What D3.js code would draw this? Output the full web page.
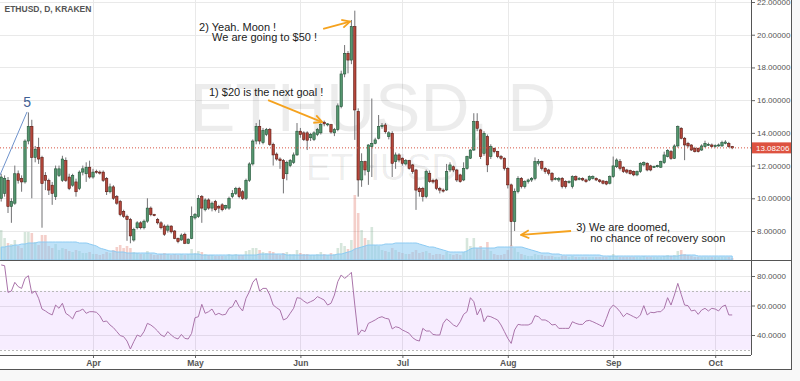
<!DOCTYPE html>
<html>
<head>
<meta charset="utf-8">
<script src="https://cdn.jsdelivr.net/npm/d3@7"></script>
<style>
    html, body { margin: 0; padding: 0; background: #f8f8f8; }
    svg { display: block; font-family: "Liberation Sans", Arial, sans-serif; }
</style>
</head>
<body>
<svg id="chart" width="800" height="381"></svg>
<script>
(function () {

    // daily candles, first one is 2016-03-05
    var startDay = Date.UTC(2016, 2, 5);

    var opens = [
        10.0, 10.3, 11.1, 9.5, 9.7, 11.5, 11.2, 11.0, 13.5, 14.4,
        12.5, 13.1, 12.5, 11.4, 11.1, 10.8, 10.1, 11.4, 11.1, 12.3,
        11.3, 10.8, 11.0, 10.6, 11.6, 11.5, 11.9, 11.3, 11.65, 11.6,
        11.6, 11.2, 10.4, 10.7, 10.1, 9.8, 9.2, 8.9, 8.7, 7.45,
        8.2, 8.5, 8.2, 8.6, 9.4, 9.0, 8.7, 8.5, 8.3, 8.05,
        8.3, 8.0, 7.55, 7.45, 7.8, 7.25, 7.55, 8.8, 8.88, 10.1,
        9.3, 9.9, 9.4, 9.8, 9.5, 9.6, 9.4, 9.4, 10.1, 10.3,
        10.6, 10.4, 10.0, 11.1, 12.1, 13.5, 14.4, 13.4, 13.9, 14.2,
        13.3, 12.7, 12.4, 12.3, 11.5, 12.0, 12.2, 12.65, 14.1, 14.0,
        14.0, 13.7, 13.6, 13.9, 14.0, 14.65, 14.5, 14.5, 14.0, 14.2,
        15.6, 17.6, 18.86, 18.45, 20.49, 15.3, 11.12, 12.24, 11.63, 13.16,
        13.36, 13.67, 14.38, 14.48, 13.77, 13.97, 12.24, 12.65, 12.45, 12.1,
        12.3, 12.04, 11.73, 10.61, 10.61, 10.1, 11.53, 11.1, 11.12, 10.6,
        10.5, 10.51, 11.73, 11.93, 11.73, 11.43, 11.12, 11.83, 12.45, 12.95,
        14.69, 14.18, 12.75, 13.77, 12.55, 13.05, 12.85, 12.55, 12.45, 11.83,
        10.82, 8.57, 10.41, 11.22, 10.71, 11.02, 11.12, 11.22, 12.14, 12.24,
        11.83, 11.73, 11.53, 11.2, 11.12, 11.22, 11.02, 11.0, 10.71, 11.32,
        11.18, 11.2, 11.12, 11.12, 11.22, 11.22, 11.12, 11.06, 11.02, 10.92,
        11.32, 11.93, 12.24, 11.9, 11.73, 11.69, 11.63, 11.43, 11.63, 12.04,
        12.14, 11.98, 11.9, 11.93, 11.9, 12.18, 12.55, 12.85, 12.44, 13.2,
        14.28, 13.67, 13.36, 13.26, 13.05, 13.05, 12.95, 13.16, 13.26, 13.26,
        13.2, 13.24, 13.2, 13.36, 13.36, 13.16
    ];
    var highs = [
        11.5, 11.4, 11.3, 10.0, 12.0, 11.7, 11.4, 13.6, 15.25, 14.8,
        13.2, 13.7, 12.6, 11.6, 11.2, 11.0, 12.0, 12.0, 12.6, 12.5,
        11.5, 11.5, 11.2, 11.7, 12.0, 12.2, 12.3, 11.8, 11.75, 11.7,
        11.7, 11.3, 10.9, 10.8, 10.2, 9.9, 9.3, 9.0, 8.8, 8.2,
        8.6, 8.6, 8.7, 10.0, 9.5, 9.05, 8.8, 8.6, 8.4, 8.4,
        8.35, 8.05, 7.6, 7.85, 7.9, 7.55, 9.5, 9.1, 10.2, 10.2,
        10.0, 10.0, 9.8, 9.9, 9.6, 9.7, 9.6, 10.1, 10.5, 10.7,
        10.7, 10.5, 11.2, 12.2, 13.6, 14.6, 14.8, 14.3, 14.3, 14.3,
        13.4, 12.8, 12.5, 12.4, 12.3, 12.4, 12.8, 14.6, 14.3, 14.1,
        14.1, 14.0, 14.1, 14.3, 14.7, 14.75, 14.6, 14.55, 14.3, 15.8,
        17.8, 19.37, 19.0, 20.9, 21.47, 15.5, 12.75, 12.3, 13.3, 16.1,
        13.7, 15.09, 14.6, 14.6, 14.1, 14.1, 12.8, 12.75, 12.5, 12.4,
        12.35, 12.1, 11.8, 10.7, 10.7, 11.75, 11.7, 11.2, 11.2, 10.7,
        10.6, 12.1, 12.2, 12.0, 11.8, 11.5, 12.2, 12.6, 13.0, 15.2,
        15.2, 14.25, 14.1, 13.9, 13.3, 13.1, 12.9, 12.65, 12.5, 11.9,
        10.9, 10.6, 11.35, 11.3, 11.1, 11.2, 11.3, 12.5, 12.4, 12.3,
        11.9, 11.8, 11.6, 11.3, 11.3, 11.3, 11.1, 11.1, 11.4, 11.4,
        11.3, 11.28, 11.2, 11.4, 11.4, 11.28, 11.18, 11.12, 11.08, 11.4,
        12.55, 12.44, 12.4, 11.95, 11.8, 11.75, 11.7, 11.7, 12.2, 12.25,
        12.2, 12.05, 12.0, 12.05, 12.3, 12.85, 13.0, 12.95, 13.3, 14.45,
        14.35, 13.75, 13.45, 13.3, 13.15, 13.1, 13.3, 13.52, 13.4, 13.35,
        13.3, 13.35, 13.52, 13.55, 13.45, 13.2
    ];
    var lows = [
        9.8, 10.1, 9.1, 8.5, 9.6, 10.9, 10.4, 10.9, 13.3, 10.0,
        12.2, 12.1, 8.2, 10.5, 10.2, 9.6, 9.9, 11.3, 11.0, 11.0,
        10.5, 10.7, 10.1, 10.5, 11.4, 11.0, 11.2, 11.2, 11.5, 11.45,
        11.0, 10.2, 10.3, 9.9, 9.6, 8.9, 8.8, 7.4, 7.25, 7.35,
        8.1, 8.1, 8.1, 8.5, 8.9, 8.9, 8.4, 8.1, 7.7, 7.9,
        7.85, 7.5, 7.25, 7.4, 7.2, 7.2, 7.5, 8.7, 8.8, 8.5,
        9.2, 9.3, 9.2, 9.2, 9.1, 9.2, 9.3, 9.3, 10.0, 10.2,
        10.0, 9.9, 9.9, 11.0, 12.0, 13.3, 13.3, 13.3, 13.8, 13.2,
        12.0, 12.3, 11.8, 10.3, 11.1, 11.9, 12.1, 12.6, 13.7, 13.5,
        12.95, 13.5, 13.5, 13.8, 13.9, 14.4, 14.4, 13.95, 13.8, 14.1,
        15.5, 17.4, 17.64, 18.2, 13.57, 10.1, 10.7, 11.4, 10.82, 11.3,
        13.3, 13.6, 14.25, 13.95, 13.6, 11.3, 11.8, 12.2, 12.0, 12.0,
        11.75, 11.5, 9.29, 10.1, 9.8, 10.0, 10.95, 10.9, 10.5, 10.3,
        10.35, 10.45, 11.6, 11.6, 11.0, 10.95, 11.05, 11.75, 12.4, 12.9,
        14.1, 12.4, 12.6, 11.6, 12.4, 12.75, 12.45, 12.35, 11.7, 10.6,
        7.1, 8.0, 10.3, 10.6, 10.6, 10.9, 11.0, 11.1, 12.0, 11.7,
        11.5, 11.4, 11.0, 11.1, 11.0, 10.6, 10.6, 10.9, 10.6, 11.05,
        11.1, 11.05, 10.95, 11.05, 11.15, 11.05, 10.95, 10.85, 10.8, 10.85,
        11.25, 11.85, 11.7, 11.55, 11.5, 11.45, 11.35, 11.35, 11.55, 11.95,
        11.65, 11.65, 11.85, 11.88, 11.85, 12.1, 12.5, 12.35, 12.4, 13.1,
        13.6, 12.33, 13.1, 12.9, 12.8, 12.8, 12.9, 13.1, 13.2, 13.1,
        13.1, 13.15, 13.15, 13.3, 13.1, 13.0
    ];
    var closes = [
        11.3, 11.2, 9.5, 9.8, 11.5, 11.1, 11.0, 13.5, 14.4, 12.5,
        13.0, 12.4, 10.9, 11.1, 10.5, 10.3, 11.8, 11.8, 12.4, 11.1,
        10.6, 11.4, 10.4, 11.6, 11.8, 11.9, 11.3, 11.6, 11.6, 11.55,
        11.1, 10.4, 10.7, 10.0, 9.7, 9.0, 8.9, 8.7, 7.7, 8.1,
        8.5, 8.2, 8.6, 9.4, 9.0, 8.95, 8.5, 8.2, 7.8, 8.3,
        7.95, 7.55, 7.35, 7.75, 7.25, 7.5, 8.88, 9.0, 10.0, 9.4,
        9.9, 9.4, 9.7, 9.3, 9.4, 9.3, 9.55, 10.0, 10.3, 10.6,
        10.1, 10.0, 11.1, 12.1, 13.5, 14.4, 13.5, 14.15, 14.2, 13.3,
        12.65, 12.4, 12.3, 11.2, 12.2, 12.3, 12.65, 14.1, 13.9, 13.6,
        13.55, 13.9, 14.0, 14.2, 14.5, 14.55, 14.55, 14.05, 14.2, 15.65,
        17.6, 18.86, 18.45, 20.49, 15.4, 11.12, 12.24, 11.73, 13.26, 13.36,
        13.57, 14.38, 14.45, 14.07, 14.0, 12.14, 12.65, 12.34, 12.14, 12.3,
        11.83, 11.63, 10.5, 10.4, 10.1, 11.63, 11.02, 11.0, 10.61, 10.5,
        10.45, 11.63, 12.04, 11.73, 11.12, 11.02, 11.83, 12.55, 12.95, 14.69,
        14.28, 12.55, 13.97, 12.04, 13.16, 12.85, 12.55, 12.45, 11.83, 10.82,
        8.57, 10.41, 11.22, 10.71, 11.02, 11.12, 11.22, 12.24, 12.24, 11.83,
        11.63, 11.53, 11.12, 11.22, 11.22, 10.71, 10.71, 11.02, 11.32, 11.12,
        11.22, 11.12, 11.02, 11.32, 11.32, 11.12, 11.02, 10.92, 10.87, 11.32,
        11.98, 12.34, 11.83, 11.63, 11.6, 11.5, 11.43, 11.63, 12.14, 12.18,
        11.73, 11.73, 11.95, 12.0, 12.24, 12.65, 12.91, 12.44, 13.2, 14.38,
        13.67, 13.26, 13.2, 12.95, 12.85, 12.85, 13.2, 13.36, 13.3, 13.16,
        13.22, 13.26, 13.4, 13.44, 13.16, 13.08206
    ];

    // volume in thousands (relative), and its moving average band
    var volumes = [
        30, 22, 17, 16, 20, 14, 12, 28, 28, 27,
        18, 15, 25, 25, 14, 12, 16, 10, 12, 11,
        9, 8, 10, 9, 7, 7, 8, 6, 6, 5,
        6, 8, 7, 10, 13, 15, 12, 14, 12, 8,
        7, 6, 6, 9, 6, 5, 5, 6, 7, 6,
        5, 6, 5, 6, 5, 6, 11, 7, 9, 8,
        6, 5, 5, 4, 4, 4, 4, 6, 5, 6,
        5, 5, 9, 10, 12, 12, 10, 8, 7, 9,
        8, 6, 5, 7, 8, 6, 6, 10, 7, 6,
        6, 5, 5, 6, 8, 6, 5, 7, 6, 12,
        17, 14, 11, 20, 65, 47, 30, 22, 20, 33,
        15, 14, 10, 9, 8, 12, 10, 8, 7, 6,
        6, 8, 10, 7, 8, 9, 7, 5, 6, 6,
        5, 8, 6, 5, 6, 5, 8, 22, 14, 22,
        12, 14, 10, 18, 9, 6, 5, 5, 6, 10,
        15, 12, 8, 6, 5, 4, 4, 6, 5, 5,
        4, 4, 4, 3, 3, 4, 4, 3, 4, 3,
        3, 3, 3, 3, 3, 3, 3, 3, 3, 4,
        6, 4, 3, 3, 3, 3, 3, 3, 3, 4,
        3, 3, 3, 3, 3, 4, 5, 4, 5, 9,
        10, 6, 5, 4, 3, 3, 3, 3, 3, 3,
        3, 3, 3, 3, 3, 2
    ];
    var volumeAvg = [
        13, 13, 14, 14, 15, 15, 16, 16, 17, 17,
        17, 18, 18, 18, 18, 18, 18, 18, 18, 18,
        18, 18, 18, 17, 17, 17, 16, 15, 14, 12,
        11, 10, 9, 9, 8, 8, 8, 7, 7, 7,
        7, 7, 7, 7, 7, 7, 6, 6, 6, 6,
        6, 6, 6, 6, 6, 6, 6, 6, 6, 5,
        5, 5, 5, 5, 5, 5, 5, 5, 5, 5,
        5, 5, 5, 5, 5, 5, 6, 6, 6, 6,
        6, 6, 6, 6, 5, 5, 5, 5, 5, 5,
        5, 5, 5, 5, 5, 5, 5, 5, 5, 6,
        6, 7, 8, 9, 11, 12, 13, 14, 15, 15,
        15, 15, 15, 16, 16, 16, 17, 17, 17, 17,
        17, 17, 17, 16, 15, 14, 13, 13, 12, 11,
        10, 9, 8, 8, 8, 8, 8, 9, 11, 12,
        12, 12, 12, 12, 12, 12, 13, 13, 13, 13,
        13, 13, 13, 13, 12, 11, 10, 9, 8, 7,
        7, 7, 6, 6, 6, 5, 5, 5, 5, 5,
        5, 5, 5, 5, 5, 5, 5, 4, 4, 4,
        4, 4, 4, 4, 4, 4, 4, 4, 4, 4,
        4, 4, 4, 4, 4, 4, 4, 4, 4, 4,
        5, 5, 5, 5, 5, 4, 4, 4, 4, 4,
        4, 4, 4, 4, 4, 4
    ];

    var rsi = [
        87.5, 87.0, 68.9, 69.8, 75.7, 72.8, 71.6, 78.4, 80.2, 68.2,
        69.8, 64.9, 57.6, 56.3, 54.7, 53.6, 60.3, 58.1, 61.5, 54.7,
        53.1, 50.9, 55.8, 56.3, 57.6, 54.7, 55.8, 55.8, 55.4, 53.1,
        49.0, 49.5, 46.8, 45.0, 42.3, 39.6, 38.9, 35.9, 30.5, 35.5,
        40.0, 38.9, 42.3, 47.9, 46.8, 45.0, 42.7, 40.0, 38.9, 42.3,
        40.0, 38.2, 37.3, 40.4, 37.7, 37.3, 41.1, 51.7, 52.4, 60.8,
        54.7, 55.8, 57.6, 53.6, 54.7, 53.6, 54.0, 58.1, 59.2, 63.7,
        59.2, 56.3, 64.9, 69.4, 75.7, 78.4, 69.8, 71.6, 71.6, 67.1,
        60.3, 58.5, 56.9, 50.2, 51.3, 54.7, 58.1, 65.3, 64.9, 63.0,
        61.5, 62.6, 63.7, 66.0, 64.9, 63.7, 60.3, 61.5, 67.1, 76.2,
        80.7, 78.4, 80.2, 82.5, 60.3, 40.0, 43.4, 42.3, 47.9, 49.0,
        50.2, 51.7, 52.4, 51.3, 50.9, 44.1, 45.6, 45.0,
        43.4, 42.3, 41.1, 38.2, 36.6, 35.9, 44.5, 42.7, 42.7, 40.4,
        40.0, 40.0, 47.9, 50.9, 49.0, 46.8, 45.6, 49.0, 54.0, 55.8,
        65.3, 62.6, 53.6, 58.1, 49.0, 52.9, 52.4, 51.3, 50.2, 46.8,
        42.3, 37.7, 34.3, 43.4, 47.2, 46.8, 46.8, 46.8, 47.9, 53.1,
        52.4, 50.2, 50.2, 49.0, 46.8, 47.2, 44.5, 44.5, 44.5, 44.5,
        49.0, 47.9, 47.2, 47.2, 49.5, 49.9, 49.0, 47.9, 46.8, 45.6,
        51.3, 57.6, 60.3, 58.5, 55.8, 52.4, 54.7, 53.6, 52.4, 51.3,
        53.6, 59.9, 53.6, 55.4, 55.1, 55.8, 55.8, 58.1, 65.3, 60.3,
        67.1, 75.0, 67.6, 60.3, 59.9, 56.3, 56.9, 54.0, 56.9, 58.1,
        56.3, 58.1, 57.6, 56.3, 59.2, 60.3, 53.6, 53.6
    ];

    var priceTicks = [8, 10, 12, 14, 16, 18, 20, 22];
    var rsiTicks = [40, 60, 80];
    var rsiBand = [30, 70];
    var lastPrice = 13.08206;

    // drawings, anchored at (day index, price)
    var noteTexts = [
        {day: 58.2, price: 20.23, lines: ['2) Yeah. Moon !', 'We are going to $50 !'], indent: 13},
        {day: 61.1, price: 16.25, lines: ['1) $20 is the next goal !'], indent: 0},
        {day: 169.1, price: 8.0, lines: ['3) We are doomed,', 'no chance of recovery soon'], indent: 14}
    ];
    var noteArrows = [
        [[94.7, 20.35], [102.6, 20.8]],
        [[78.5, 16.0], [94.4, 14.66]],
        [[167.6, 8.0], [152.9, 7.76]]
    ];
    var waveLine = [[-0.35, 11.42], [7.6, 15.28]];

    var upColor = '#55966f', downColor = '#b4473b',
        upBorder = '#225437', downBorder = '#5b1a13',
        wickColor = '#737375', gridColor = '#e9e9e9',
        textColor = '#555', noteColor = '#f5a21e';

    var plotRight = 751, frameRight = 791,
        priceBottom = 260, rsiBottom = 355, frameBottom = 369;

    var days = closes.map(function (d, i) { return d3.utcDay.offset(new Date(startDay), i); });
    function dayAt(k) { return new Date(startDay + k * 864e5); }

    var x = d3.scaleUtc().domain([days[0], days[days.length - 1]]).range([1.2, 732.2]);
    var y = d3.scaleLinear().domain([8, 22]).range([231, 2]);
    var yVol = d3.scaleLinear().domain([0, 100]).range([priceBottom, 160]);
    var yRsi = d3.scaleLinear().domain([40, 80]).range([335, 276]);
    var bodyW = 2.4;

    var svg = d3.select('#chart');

    svg.append('rect')
        .attr('width', frameRight).attr('height', frameBottom)
        .style('fill', '#fff');

    svg.append('clipPath').attr('id', 'priceClip').append('rect')
        .attr('width', plotRight).attr('height', priceBottom);
    svg.append('clipPath').attr('id', 'rsiClip').append('rect')
        .attr('y', priceBottom).attr('width', plotRight).attr('height', rsiBottom - priceBottom);

    // grid
    var grid = svg.append('g').style('stroke', gridColor).attr('shape-rendering', 'crispEdges');
    var months = x.ticks(d3.utcMonth.every(1));
    grid.selectAll('line.h').data(priceTicks).enter().append('line').attr('class', 'h')
        .attr('x1', 0).attr('x2', plotRight)
        .attr('y1', function (d) { return Math.round(y(d)) + 0.5; })
        .attr('y2', function (d) { return Math.round(y(d)) + 0.5; });
    grid.selectAll('line.r').data(rsiTicks).enter().append('line').attr('class', 'r')
        .attr('x1', 0).attr('x2', plotRight)
        .attr('y1', function (d) { return Math.round(yRsi(d)) + 0.5; })
        .attr('y2', function (d) { return Math.round(yRsi(d)) + 0.5; });
    grid.selectAll('line.v').data(months).enter().append('line').attr('class', 'v')
        .attr('x1', function (d) { return Math.round(x(d)) + 0.5; })
        .attr('x2', function (d) { return Math.round(x(d)) + 0.5; })
        .attr('y1', 0).attr('y2', rsiBottom);

    // watermark
    svg.append('text')
        .attr('x', 190).attr('y', 131)
        .text('ETHUSD, D')
        .style('font-size', '68px')
        .style('fill', '#000').style('fill-opacity', 0.075);
    svg.append('text')
        .attr('x', 306).attr('y', 180)
        .text('ETHUSD')
        .style('font-size', '37px')
        .style('fill', '#000').style('fill-opacity', 0.075);

    var price = svg.append('g').attr('clip-path', 'url(#priceClip)');

    // volume
    price.append('g').selectAll('rect').data(volumes).enter().append('rect')
        .attr('x', function (d, i) { return x(days[i]) - 1.3; })
        .attr('width', 2.6)
        .attr('y', function (d) { return yVol(d); })
        .attr('height', function (d) { return priceBottom - yVol(d); })
        .style('fill', function (d, i) { return closes[i] >= opens[i] ? '#6ba583' : '#d75442'; })
        .style('fill-opacity', 0.28);

    var volArea = d3.area()
        .x(function (d, i) { return x(days[i]); })
        .y0(priceBottom)
        .y1(function (d) { return yVol(d); })
        .curve(d3.curveMonotoneX);
    price.append('path').datum(volumeAvg)
        .attr('d', volArea)
        .style('fill', '#8ccbf3').style('fill-opacity', 0.55)
        .style('stroke', '#8ccbf3').style('stroke-width', 1);

    // candles
    var candle = price.append('g').selectAll('g').data(closes).enter().append('g');
    candle.append('line')
        .attr('x1', function (d, i) { return x(days[i]); })
        .attr('x2', function (d, i) { return x(days[i]); })
        .attr('y1', function (d, i) { return y(highs[i]); })
        .attr('y2', function (d, i) { return y(lows[i]); })
        .style('stroke', wickColor).style('stroke-width', 1);
    candle.append('rect')
        .attr('x', function (d, i) { return x(days[i]) - bodyW / 2; })
        .attr('width', bodyW)
        .attr('y', function (d, i) { return y(Math.max(opens[i], closes[i])); })
        .attr('height', function (d, i) { return Math.max(1, Math.abs(y(opens[i]) - y(closes[i]))); })
        .style('fill', function (d, i) { return closes[i] >= opens[i] ? upColor : downColor; })
        .style('stroke', function (d, i) { return closes[i] >= opens[i] ? upBorder : downBorder; })
        .style('stroke-width', 0.6);

    // last price line
    price.append('line')
        .attr('x1', 0).attr('x2', plotRight)
        .attr('y1', y(lastPrice)).attr('y2', y(lastPrice))
        .style('stroke', '#d75442').style('stroke-width', 1)
        .style('stroke-dasharray', '1,2');

    // elliott wave mark
    var pt = function (p) { return [x(dayAt(p[0])), y(p[1])]; };
    price.append('path')
        .attr('d', d3.line()(waveLine.map(pt)))
        .style('stroke', '#6f93cc').style('stroke-width', 1).style('fill', 'none');
    price.append('text')
        .attr('x', pt(waveLine[1])[0]).attr('y', pt(waveLine[1])[1] - 5)
        .style('text-anchor', 'middle')
        .style('font-size', '14px').style('fill', '#3f5f94')
        .text('5');

    // notes
    svg.append('defs').append('marker')
        .attr('id', 'head').attr('viewBox', '0 0 10 10')
        .attr('refX', 9).attr('refY', 5)
        .attr('markerWidth', 10).attr('markerHeight', 10)
        .attr('markerUnits', 'userSpaceOnUse')
        .attr('orient', 'auto')
        .append('path').attr('d', 'M1,1 L9,5 L1,9')
        .style('fill', 'none').style('stroke', noteColor).style('stroke-width', 1.8);

    svg.append('g').selectAll('path').data(noteArrows).enter().append('path')
        .attr('d', function (d) { return d3.line()(d.map(pt)); })
        .attr('marker-end', 'url(#head)')
        .style('stroke', noteColor).style('stroke-width', 1.8).style('fill', 'none');

    var notes = svg.append('g').selectAll('text').data(noteTexts).enter().append('text')
        .attr('x', function (d) { return pt([d.day, d.price])[0]; })
        .attr('y', function (d) { return pt([d.day, d.price])[1]; })
        .style('font-size', '11px').style('fill', '#222');
    notes.selectAll('tspan').data(function (d) {
            return d.lines.map(function (l, j) { return {text: l, j: j, indent: d.indent, x: pt([d.day, d.price])[0]}; });
        }).enter().append('tspan')
        .attr('x', function (d) { return d.x + (d.j ? d.indent : 0); })
        .attr('dy', function (d) { return d.j ? 10.5 : 0; })
        .text(function (d) { return d.text; });

    // rsi panel
    var rsiG = svg.append('g').attr('clip-path', 'url(#rsiClip)');
    rsiG.append('rect')
        .attr('x', 0).attr('width', plotRight)
        .attr('y', yRsi(rsiBand[1])).attr('height', yRsi(rsiBand[0]) - yRsi(rsiBand[1]))
        .style('fill', '#9915ff').style('fill-opacity', 0.08);
    rsiG.selectAll('line.band').data(rsiBand).enter().append('line').attr('class', 'band')
        .attr('x1', 0).attr('x2', plotRight)
        .attr('y1', function (d) { return Math.round(yRsi(d)) + 0.5; })
        .attr('y2', function (d) { return Math.round(yRsi(d)) + 0.5; })
        .style('stroke', '#b9b9b9').style('stroke-dasharray', '2,2');
    rsiG.append('path').datum(rsi)
        .attr('d', d3.line()
            .x(function (d, i) { return x(days[i]); })
            .y(function (d) { return yRsi(d); }))
        .style('fill', 'none').style('stroke', '#aa74aa').style('stroke-width', 1);

    // axes
    var priceAxis = svg.append('g')
        .attr('transform', 'translate(' + plotRight + ',0)')
        .call(d3.axisRight(y).tickValues(priceTicks).tickFormat(d3.format('.5f')).tickSize(4).tickPadding(2));
    var rsiAxis = svg.append('g')
        .attr('transform', 'translate(' + plotRight + ',0)')
        .call(d3.axisRight(yRsi).tickValues(rsiTicks).tickFormat(d3.format('.4f')).tickSize(4).tickPadding(2));
    var timeAxis = svg.append('g')
        .attr('transform', 'translate(0,' + rsiBottom + ')')
        .call(d3.axisBottom(x).ticks(d3.utcMonth.every(1)).tickFormat(d3.utcFormat('%b')).tickSize(3).tickPadding(2));

    [priceAxis, rsiAxis, timeAxis].forEach(function (a) {
        a.select('.domain').remove();
        a.selectAll('line').style('stroke', '#666');
        a.selectAll('text').style('fill', textColor).style('font-family', '"Liberation Sans", Arial, sans-serif');
    });
    priceAxis.selectAll('text').style('font-size', '8px');
    rsiAxis.selectAll('text').style('font-size', '8px');
    timeAxis.selectAll('text').style('font-size', '8.5px').style('font-weight', 'bold');

    var last = svg.append('g').attr('transform', 'translate(' + plotRight + ',' + y(lastPrice) + ')');
    last.append('rect')
        .attr('x', 0.5).attr('y', -5.5).attr('width', frameRight - plotRight - 0.5).attr('height', 11)
        .style('fill', '#dd5240');
    last.append('text')
        .attr('x', 5).attr('y', 3)
        .style('font-size', '8px').style('fill', '#fff')
        .text(d3.format('.5f')(lastPrice));

    // frame lines
    var frame = svg.append('g').style('stroke', '#555').attr('shape-rendering', 'crispEdges');
    frame.append('line').attr('x1', plotRight + 0.5).attr('x2', plotRight + 0.5).attr('y1', 0).attr('y2', rsiBottom);
    frame.append('line').attr('x1', 0).attr('x2', frameRight).attr('y1', priceBottom + 0.5).attr('y2', priceBottom + 0.5);
    frame.append('line').attr('x1', 0).attr('x2', plotRight).attr('y1', rsiBottom + 0.5).attr('y2', rsiBottom + 0.5);
    frame.append('line').attr('x1', frameRight + 0.5).attr('x2', frameRight + 0.5).attr('y1', 0).attr('y2', frameBottom);
    frame.append('line').attr('x1', 0).attr('x2', frameRight + 1).attr('y1', frameBottom + 0.5).attr('y2', frameBottom + 0.5);

    // title
    svg.append('text')
        .attr('x', 4.5).attr('y', 12)
        .style('font-size', '8.5px').style('font-weight', 'bold').style('fill', textColor)
        .text('ETHUSD, D, KRAKEN');

}());
</script>
</body>
</html>
